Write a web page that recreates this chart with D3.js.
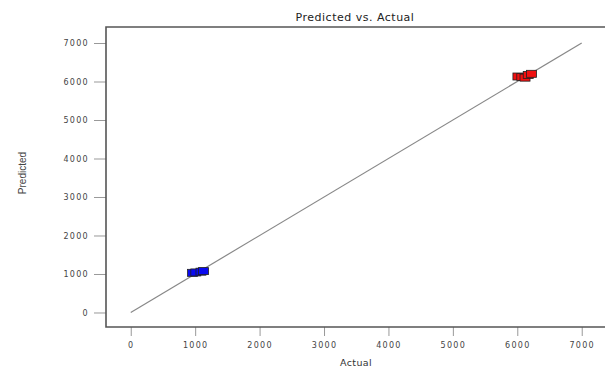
<!DOCTYPE html>
<html>
<head>
<meta charset="utf-8">
<script src="https://cdn.jsdelivr.net/npm/d3@7"></script>
<style>
  body { margin: 0; background: #fff; }
  svg { display: block; }
</style>
</head>
<body>
<div id="chart"></div>
<script>
// data
const chartTitle = "Predicted vs. Actual";
const xLabel = "Actual";
const yLabel = "Predicted";
const tickValues = [0, 1000, 2000, 3000, 4000, 5000, 6000, 7000];
const lineEnds = [0, 7000];

// low group (blue)
const lowActual = [960, 1010, 1090, 1130];
const lowPredicted = [1030, 1040, 1060, 1075];

// high group (red)
const highActual = [6010, 6070, 6120, 6170, 6220];
const highPredicted = [6130, 6120, 6100, 6170, 6200];

const W = 605, H = 375;
const frame = { left: 106, top: 27, right: 612, bottom: 327 };

const svg = d3.select("#chart").append("svg")
    .attr("width", W)
    .attr("height", H);

const x = d3.scaleLinear()
    .domain([-384, 7470])
    .range([frame.left, frame.right]);
const y = d3.scaleLinear()
    .domain([-377, 7416])
    .range([frame.bottom, frame.top]);

// axes, offset out of the frame
const fmt = d3.format("d");
const xAxis = svg.append("g")
    .attr("transform", `translate(0,${frame.bottom})`)
    .call(d3.axisBottom(x).tickValues(tickValues).tickFormat(fmt).tickSize(9).tickPadding(6));
const yAxis = svg.append("g")
    .attr("transform", `translate(${frame.left},0)`)
    .call(d3.axisLeft(y).tickValues(tickValues).tickFormat(fmt).tickSize(12).tickPadding(5));

[xAxis, yAxis].forEach(g => {
    g.select(".domain").remove();
    g.selectAll(".tick line").attr("stroke", "#999").attr("stroke-width", 1);
    g.selectAll(".tick text")
        .attr("fill", "#444")
        .style("font-family", "DejaVu Sans, sans-serif")
        .style("font-size", "8px")
        .style("letter-spacing", "1.3px");
});

// frame lines (left + top + bottom)
svg.append("path")
    .attr("d", `M${frame.right},${frame.top}H${frame.left}V${frame.bottom}H${frame.right}`)
    .attr("fill", "none")
    .attr("stroke", "#555")
    .attr("stroke-width", 1.6);

// diagonal y = x
svg.append("line")
    .attr("x1", x(lineEnds[0])).attr("y1", y(lineEnds[0]))
    .attr("x2", x(lineEnds[1])).attr("y2", y(lineEnds[1]))
    .attr("stroke", "#888")
    .attr("stroke-width", 1.2);

function drawPoints(actual, predicted, color) {
    svg.append("g").selectAll("rect")
        .data(actual.map((a, i) => ({ a: a, p: predicted[i] })))
        .enter().append("rect")
        .attr("x", d => x(d.a) - 5)
        .attr("y", d => y(d.p) - 3.5)
        .attr("width", 10)
        .attr("height", 7)
        .attr("fill", color)
        .attr("stroke", "#222")
        .attr("stroke-width", 0.8);
}
drawPoints(lowActual, lowPredicted, "#0a0af0");
drawPoints(highActual, highPredicted, "#f01010");

// title + axis labels
svg.append("text")
    .attr("x", 355).attr("y", 21)
    .attr("text-anchor", "middle")
    .attr("fill", "#222")
    .style("font-family", "DejaVu Sans, sans-serif")
    .style("font-size", "11px")
    .style("letter-spacing", "0.5px")
    .text(chartTitle);

svg.append("text")
    .attr("x", 356).attr("y", 366)
    .attr("text-anchor", "middle")
    .attr("fill", "#333")
    .style("font-family", "DejaVu Sans, sans-serif")
    .style("font-size", "9.5px")
    .style("letter-spacing", "0.4px")
    .text(xLabel);

svg.append("text")
    .attr("transform", "translate(26,173) rotate(-90)")
    .attr("text-anchor", "middle")
    .attr("fill", "#444")
    .style("font-family", "Liberation Sans Narrow, Liberation Sans, sans-serif")
    .style("font-size", "10px")
    .text(yLabel);
</script>
</body>
</html>
